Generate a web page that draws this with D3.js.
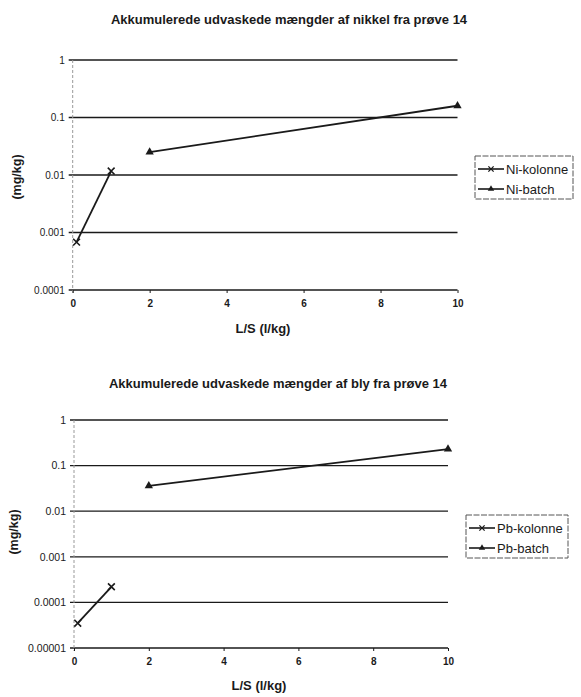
<!DOCTYPE html>
<html>
<head>
<meta charset="utf-8">
<script src="https://cdn.jsdelivr.net/npm/d3@7"></script>
<style>
  body { margin: 0; background: #fff; }
  svg { display: block; font-family: "Liberation Sans", Arial, sans-serif; }
</style>
</head>
<body>
<svg id="chart" width="581" height="697"></svg>
<script>
// values
const xTicks = [0, 2, 4, 6, 8, 10];

const niYTicks = [0.0001, 0.001, 0.01, 0.1, 1];
const niYLabels = ["0.0001", "0.001", "0.01", "0.1", "1"];
const niKolonne = [[0.1, 0.00068], [1, 0.0117]];
const niBatch = [[2, 0.025], [10, 0.16]];

const pbYTicks = [0.00001, 0.0001, 0.001, 0.01, 0.1, 1];
const pbYLabels = ["0.00001", "0.0001", "0.001", "0.01", "0.1", "1"];
const pbKolonne = [[0.1, 0.000035], [1, 0.00022]];
const pbBatch = [[2, 0.036], [10, 0.23]];

const svg = d3.select("#chart");
const ink = "#1a1a1a";

const drawChart = (cfg) => {
  const x = d3.scaleLinear().domain([0, 10]).range([cfg.left, cfg.right]);
  const y = d3.scaleLog()
    .domain([cfg.yTicks[0], cfg.yTicks[cfg.yTicks.length - 1]])
    .range([cfg.bottom, cfg.top]);

  const g = svg.append("g");

  // title
  g.append("text")
    .attr("x", cfg.titleX)
    .attr("y", cfg.titleY)
    .attr("text-anchor", "middle")
    .style("font-size", "13px")
    .style("font-weight", "bold")
    .attr("fill", ink)
    .text(cfg.title);

  // horizontal gridlines
  g.append("g")
    .selectAll("line")
    .data(cfg.yTicks)
    .join("line")
    .attr("x1", cfg.left - 4)
    .attr("x2", cfg.right)
    .attr("y1", d => y(d))
    .attr("y2", d => y(d))
    .attr("stroke", ink)
    .attr("stroke-width", 1.3);

  // faint vertical axis
  g.append("line")
    .attr("x1", cfg.left).attr("x2", cfg.left)
    .attr("y1", cfg.top).attr("y2", cfg.bottom + 3)
    .attr("stroke", "#999")
    .attr("stroke-width", 1)
    .attr("stroke-dasharray", "3 2");

  const yAxis = d3.axisLeft(y)
    .tickValues(cfg.yTicks)
    .tickFormat((d, i) => cfg.yLabels[i])
    .tickSize(0)
    .tickPadding(8);

  g.append("g")
    .attr("transform", `translate(${cfg.left}, 0)`)
    .call(yAxis)
    .call(a => a.select(".domain").remove())
    .style("font-family", "Liberation Sans, Arial, sans-serif")
    .style("font-size", cfg.yFont)
    .style("color", ink);

  const xAxis = d3.axisBottom(x)
    .tickValues(xTicks)
    .tickSize(3)
    .tickPadding(7);

  g.append("g")
    .attr("transform", `translate(0, ${cfg.bottom})`)
    .call(xAxis)
    .call(a => a.select(".domain").remove())
    .style("font-family", "Liberation Sans, Arial, sans-serif")
    .style("font-size", "10px")
    .style("font-weight", "bold")
    .style("color", ink);

  // axis titles
  g.append("text")
    .attr("x", cfg.xLabelX)
    .attr("y", cfg.xLabelY)
    .attr("text-anchor", "middle")
    .style("font-size", "13px")
    .style("font-weight", "bold")
    .attr("fill", ink)
    .text("L/S (l/kg)");

  g.append("text")
    .attr("transform", `translate(${cfg.yLabelX}, ${cfg.yLabelY}) rotate(-90)`)
    .attr("text-anchor", "middle")
    .style("font-size", "12.5px")
    .style("font-weight", "bold")
    .attr("fill", ink)
    .text("(mg/kg)");

  const line = d3.line().x(d => x(d[0])).y(d => y(d[1]));

  [cfg.kolonne, cfg.batch].forEach(s => {
    g.append("path")
      .datum(s)
      .attr("fill", "none")
      .attr("stroke", ink)
      .attr("stroke-width", 1.8)
      .attr("d", line);
  });

  // x markers for kolonne
  g.append("g")
    .selectAll("path")
    .data(cfg.kolonne)
    .join("path")
    .attr("transform", d => `translate(${x(d[0])}, ${y(d[1])}) rotate(45)`)
    .attr("d", d3.symbol(d3.symbolCross2 || d3.symbolPlus, 32)())
    .attr("fill", "none")
    .attr("stroke", ink)
    .attr("stroke-width", 1.6);

  // triangle markers for batch
  g.append("g")
    .selectAll("path")
    .data(cfg.batch)
    .join("path")
    .attr("transform", d => `translate(${x(d[0])}, ${y(d[1])})`)
    .attr("d", d3.symbol(d3.symbolTriangle, 30)())
    .attr("fill", ink);

  // legend
  const lg = g.append("g").attr("transform", `translate(${cfg.legX}, ${cfg.legY})`);
  lg.append("rect")
    .attr("width", cfg.legW)
    .attr("height", 43)
    .attr("fill", "#fff")
    .attr("stroke", "#555")
    .attr("stroke-width", 1)
    .attr("stroke-dasharray", "6 1.5");

  const entries = [
    { name: cfg.names[0], sym: "x" },
    { name: cfg.names[1], sym: "tri" }
  ];
  entries.forEach((e, i) => {
    const ey = 13 + i * 20;
    lg.append("line")
      .attr("x1", 3).attr("x2", 29)
      .attr("y1", ey).attr("y2", ey)
      .attr("stroke", ink)
      .attr("stroke-width", 1.6);
    if (e.sym === "x") {
      lg.append("path")
        .attr("transform", `translate(16, ${ey}) rotate(45)`)
        .attr("d", d3.symbol(d3.symbolCross2 || d3.symbolPlus, 20)())
        .attr("fill", "none")
        .attr("stroke", ink)
        .attr("stroke-width", 1.3);
    } else {
      lg.append("path")
        .attr("transform", `translate(16, ${ey})`)
        .attr("d", d3.symbol(d3.symbolTriangle, 18)())
        .attr("fill", ink);
    }
    lg.append("text")
      .attr("x", 31)
      .attr("y", ey + 4.5)
      .style("font-size", "13px")
      .attr("fill", ink)
      .text(e.name);
  });
};

drawChart({
  title: "Akkumulerede udvaskede mængder af nikkel fra prøve 14",
  titleX: 289, titleY: 24,
  left: 72.7, right: 457.5, top: 60, bottom: 290,
  yTicks: niYTicks, yLabels: niYLabels, yFont: "10px",
  kolonne: niKolonne, batch: niBatch,
  names: ["Ni-kolonne", "Ni-batch"],
  xLabelX: 263, xLabelY: 333,
  yLabelX: 21, yLabelY: 177,
  legX: 475, legY: 156, legW: 98
});

drawChart({
  title: "Akkumulerede udvaskede mængder af bly fra prøve 14",
  titleX: 278, titleY: 388,
  left: 74, right: 448, top: 420, bottom: 648,
  yTicks: pbYTicks, yLabels: pbYLabels, yFont: "10.5px",
  kolonne: pbKolonne, batch: pbBatch,
  names: ["Pb-kolonne", "Pb-batch"],
  xLabelX: 259, xLabelY: 690,
  yLabelX: 18, yLabelY: 532,
  legX: 466, legY: 515, legW: 102
});
</script>
</body>
</html>
